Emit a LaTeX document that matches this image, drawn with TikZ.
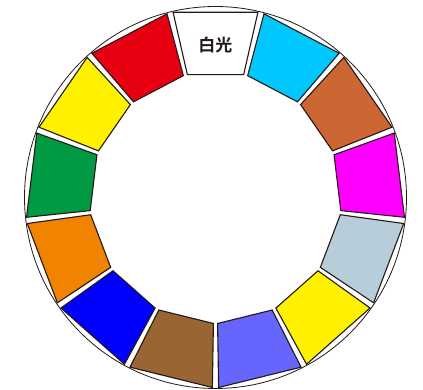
\documentclass[tikz,border=0pt]{standalone}
\usepackage{fontspec}
\newfontfamily\cjk{Noto Sans CJK SC}[BoldFont={Noto Sans CJK SC Bold}]
\definecolor{ringline}{HTML}{231815}
\definecolor{segcyan}{HTML}{00C8FF}
\definecolor{segsienna}{HTML}{CC6633}
\definecolor{segmagenta}{HTML}{FF00FF}
\definecolor{seggrey}{HTML}{B7CDD9}
\definecolor{segyellow}{HTML}{FFF100}
\definecolor{segviolet}{HTML}{6666FF}
\definecolor{segbrown}{HTML}{996633}
\definecolor{segblue}{HTML}{0000FF}
\definecolor{segorange}{HTML}{F08300}
\definecolor{seggreen}{HTML}{009944}
\definecolor{segred}{HTML}{E60012}
\begin{document}
\begin{tikzpicture}[x=1pt,y=1pt]
    \useasboundingbox (-215.5,-192.5) rectangle (207.5,197.5);

    % Draw the outer ring
    \draw[line width=0.8pt, ringline] (0,0) circle (191);

    % Draw the thirteen colour segments, clockwise from the top
    \foreach \c [count=\i from 0] in {white, segcyan, segsienna, segmagenta, seggrey, segyellow,
        segviolet, segbrown, segblue, segorange, seggreen, segyellow, segred} {
      \pgfmathsetmacro{\a}{90-\i*360/13}
      \filldraw[fill=\c, draw=ringline, line width=1.1pt]
        ({\a-12.9}:190) -- ({\a+12.9}:190) -- ({\a+12.9}:126) -- ({\a-12.9}:126) -- cycle;
    }

    % Label the white segment
    \node[font=\cjk\bfseries\fontsize{17}{17}\selectfont, text=ringline] (whitelight) at (0,152.5) {白光};
\end{tikzpicture}
\end{document}
